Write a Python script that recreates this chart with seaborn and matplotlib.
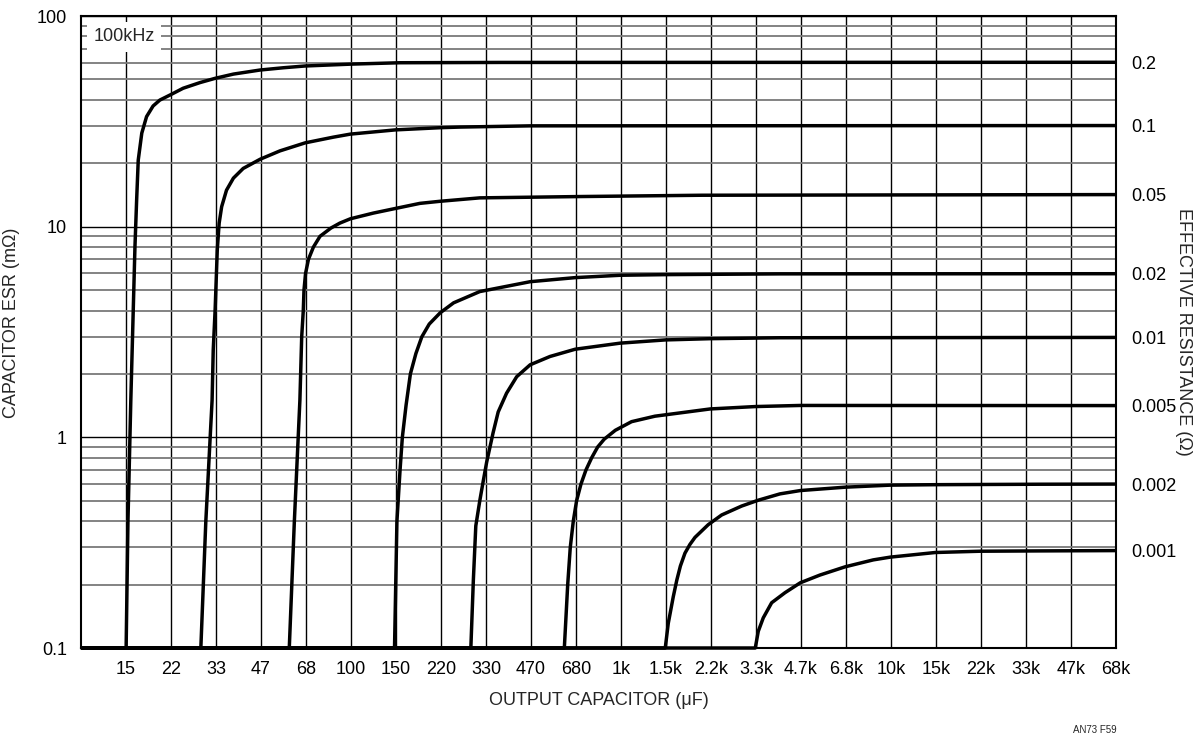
import matplotlib
matplotlib.use("Agg")
import matplotlib.pyplot as plt
from matplotlib import font_manager
from matplotlib.ticker import LogLocator, NullLocator, FixedLocator
import seaborn as sns
import pandas as pd
import numpy as np

# tick labels along the capacitor axis (E6 steps, evenly spaced on log scale)
cap_labels = ['15', '22', '33', '47', '68', '100', '150', '220', '330', '470', '680',
              '1k', '1.5k', '2.2k', '3.3k', '4.7k', '6.8k', '10k', '15k', '22k',
              '33k', '47k', '68k']

esr_ticks = [0.1, 1, 10, 100]
esr_tick_labels = ['0.1', '1', '10', '100']

# right-hand labels (effective resistance, ohm) and the ESR level they sit at
r_labels = ['0.2', '0.1', '0.05', '0.02', '0.01', '0.005', '0.002', '0.001']
r_levels = [60.3, 30.1, 14.2, 5.98, 2.98, 1.415, 0.599, 0.29]

# curves: capacitance (uF) vs capacitor ESR (mOhm)
cap_r200 = [10, 14.7, 14.93, 15.3, 15.85, 16.08, 16.3, 16.8, 17.5, 18.5, 19.6, 21.4, 23.9,
            27.6, 31.4, 36.7, 46, 56.2, 67.5, 100, 152, 357, 68000]
esr_r200 = [0.1, 0.1, 0.397, 1.5, 8.04, 13.4, 20.7, 27.8, 33.3, 37.4, 39.9, 42.2, 45.4,
            48.3, 50.6, 53.0, 55.4, 56.8, 57.9, 59.1, 60.0, 60.2, 60.3]

cap_r100 = [10, 27.8, 29.0, 30.6, 30.9, 31.4, 31.98, 32.5, 33.2, 34.6, 36.7, 39.9, 46.1,
            54.6, 67.7, 86.0, 99.5, 146, 214, 253, 460, 68000]
esr_r100 = [0.1, 0.1, 0.397, 1.5, 2.6, 4.02, 7.75, 10.4, 12.44, 14.9, 17.0, 18.9, 20.9,
            22.9, 25.0, 26.6, 27.5, 28.8, 29.5, 29.7, 30.1, 30.2]

cap_r050 = [10, 59.1, 61.7, 64.7, 65.7, 66.6, 67.0, 67.9, 69.6, 72.6, 76.8, 84.3, 91, 99.5,
            121, 146, 180, 214, 300, 705, 2000, 68000]
esr_r050 = [0.1, 0.1, 0.397, 1.5, 3.0, 4.0, 5.0, 6.0, 7.0, 8.0, 9.0, 9.85, 10.4, 10.9,
            11.6, 12.2, 12.9, 13.2, 13.7, 13.9, 14.1, 14.2]

cap_r020 = [10, 145, 148, 152, 155, 160, 166, 174, 183, 195, 214, 240, 300, 461, 677,
            994, 1459, 3881, 68000]
esr_r020 = [0.1, 0.1, 0.4, 0.7, 1.0, 1.42, 2.0, 2.5, 3.0, 3.45, 3.9, 4.35, 4.92, 5.48, 5.73,
            5.88, 5.92, 5.97, 5.98]

cap_r010 = [10, 278, 284, 290, 300, 309, 318, 336, 351, 377, 411, 461, 546, 677, 994,
            1459, 2141, 3881, 68000]
esr_r010 = [0.1, 0.1, 0.21, 0.38, 0.5, 0.62, 0.76, 1.05, 1.32, 1.62, 1.94, 2.21, 2.42, 2.62, 2.80,
            2.90, 2.94, 2.97, 2.98]

cap_r005 = [10, 617, 635, 649, 666, 685, 711, 742, 779, 820, 867, 953, 1095, 1336, 2141,
            3148, 4615, 68000]
esr_r005 = [0.1, 0.1, 0.2, 0.3, 0.4, 0.5, 0.6, 0.7, 0.8, 0.9, 0.98, 1.08, 1.187, 1.26, 1.364,
            1.40, 1.417, 1.415]

cap_r002 = [10, 1459, 1497, 1562, 1610, 1660, 1726, 1800, 1880, 2105, 2360, 2800, 3225,
            3881, 4615, 6773, 9940, 14590, 35640, 68000]
esr_r002 = [0.1, 0.1, 0.131, 0.175, 0.21, 0.245, 0.282, 0.31, 0.335, 0.385, 0.428, 0.472, 0.503,
            0.539, 0.559, 0.58, 0.593, 0.596, 0.599, 0.6]

cap_r001 = [10, 3144, 3225, 3365, 3615, 4050, 4615, 5458, 6773, 8600, 9940, 14590, 21410,
            35640, 68000]
esr_r001 = [0.1, 0.1, 0.12, 0.139, 0.164, 0.183, 0.204, 0.222, 0.243, 0.262, 0.27, 0.284, 0.288,
            0.289, 0.29]

curves = [('0.2', cap_r200, esr_r200), ('0.1', cap_r100, esr_r100),
          ('0.05', cap_r050, esr_r050), ('0.02', cap_r020, esr_r020),
          ('0.01', cap_r010, esr_r010), ('0.005', cap_r005, esr_r005),
          ('0.002', cap_r002, esr_r002), ('0.001', cap_r001, esr_r001)]

df = pd.concat([pd.DataFrame({'cap': c, 'esr': e, 'curve': name}) for name, c, e in curves],
               ignore_index=True)

sns.set_style('white')
installed = {f.name for f in font_manager.fontManager.ttflist}
family = 'Liberation Sans Narrow' if 'Liberation Sans Narrow' in installed else 'Liberation Sans'
plt.rcParams['font.family'] = [family, 'DejaVu Sans']

fig = plt.figure(figsize=(12.01, 7.41), dpi=100)
ax = fig.add_axes([0.0674, 0.1255, 0.8618, 0.8529])

x_min = 10.0
x_max = 10 ** (1 + len(cap_labels) / 6)
ax.set_xscale('log')
ax.set_yscale('log')
ax.set_xlim(x_min, x_max)
ax.set_ylim(0.1, 100)

sns.lineplot(data=df, x='cap', y='esr', units='curve', estimator=None, sort=False,
             color='black', linewidth=2.5, ax=ax, legend=False, zorder=5, clip_on=False)
for ln in ax.lines:
    ln.set_solid_joinstyle('round')
    ln.set_solid_capstyle('butt')

# capacitor axis ticks: evenly spaced E6 steps
tick_pos = [10 ** (1 + (i + 1) / 6) for i in range(len(cap_labels))]
ax.xaxis.set_major_locator(FixedLocator(tick_pos))
ax.xaxis.set_minor_locator(NullLocator())
ax.set_xticklabels(cap_labels)

ax.yaxis.set_major_locator(FixedLocator(esr_ticks))
ax.set_yticklabels(esr_tick_labels)
ax.yaxis.set_minor_locator(LogLocator(base=10, subs=np.arange(2, 10)))
ax.yaxis.set_minor_formatter(plt.NullFormatter())

ax.grid(axis='x', which='major', color='black', linewidth=1.0, zorder=1)
ax.grid(axis='y', which='major', color='black', linewidth=1.0, zorder=1)
ax.grid(axis='y', which='minor', color='#7a7a7a', linewidth=1.3, zorder=1)
ax.set_axisbelow(True)

ax.tick_params(axis='both', which='both', length=0, labelsize=13, colors='black')
ax.tick_params(axis='x', pad=9)
ax.tick_params(axis='y', pad=10)
for sp in ax.spines.values():
    sp.set_color('black')
    sp.set_linewidth(1.5)

ax.set_xlabel('OUTPUT CAPACITOR (μF)', fontsize=13)
ax.xaxis.set_label_coords(0.5, -0.07)
ax.set_ylabel('CAPACITOR ESR (mΩ)', fontsize=13)
ax.yaxis.set_label_coords(-0.059, 0.515)

# right axis: effective resistance of each curve
ax2 = ax.twinx()
ax2.set_yscale('log')
ax2.set_ylim(0.1, 100)
ax2.yaxis.set_major_locator(FixedLocator(r_levels))
ax2.set_yticklabels(r_labels)
ax2.yaxis.set_minor_locator(NullLocator())
ax2.tick_params(axis='y', length=0, labelsize=13, pad=11, colors='black')
ax2.set_ylabel('EFFECTIVE RESISTANCE (Ω)', fontsize=13, rotation=-90, va='center')
ax2.yaxis.set_label_coords(1.065, 0.5)
for sp in ax2.spines.values():
    sp.set_visible(False)

ax.text(0.0415, 0.967, '100kHz', transform=ax.transAxes, fontsize=13,
        ha='center', va='center', zorder=10,
        bbox=dict(facecolor='white', edgecolor='none', pad=4.5))

fig.text(1095 / 1201, 1 - 730 / 741, 'AN73 F59', fontsize=7, ha='center', va='center')

fig.savefig('out.png', dpi=100)
